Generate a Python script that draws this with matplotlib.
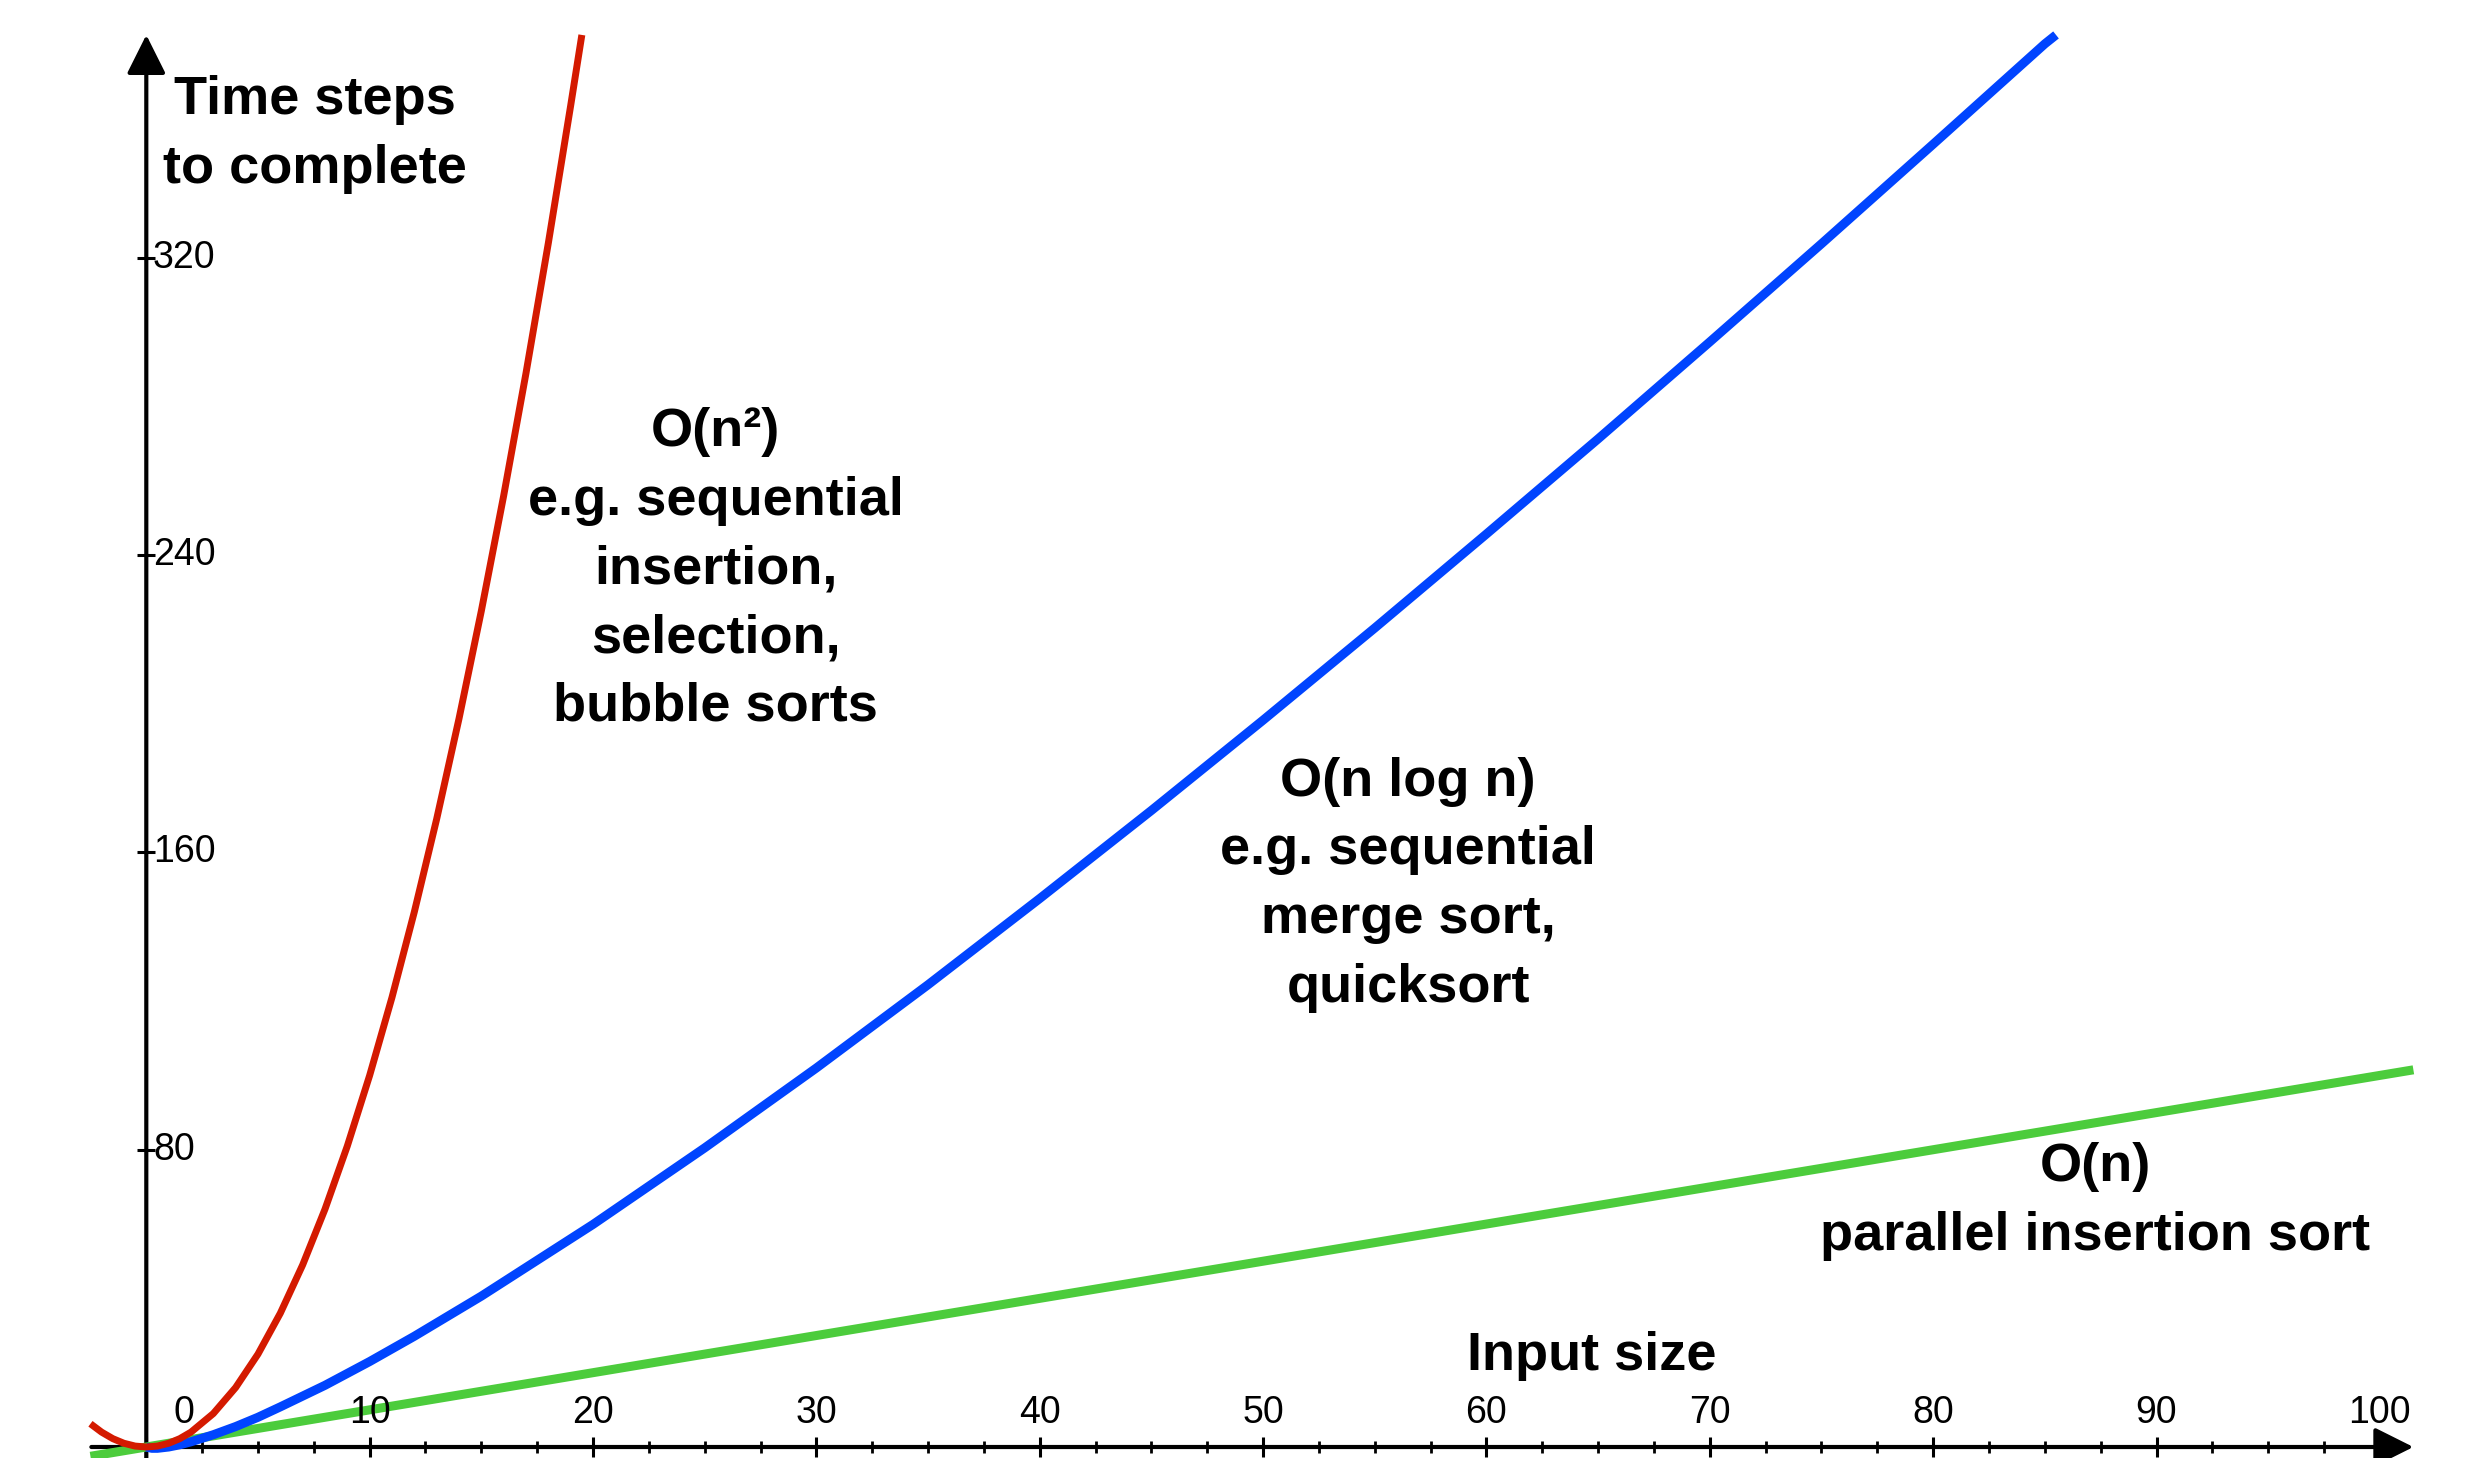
import matplotlib.pyplot as plt
from matplotlib.ticker import FixedLocator

# values
n_quad = [-2.5, -2, -1.5, -1, -0.5, 0, 0.5, 1, 1.5, 2, 3, 4, 5, 6, 7, 8, 9, 10,
          11, 12, 13, 14, 15, 16, 17, 18, 19, 19.5]
t_quad = [6.25, 4, 2.25, 1, 0.25, 0, 0.25, 1, 2.25, 4, 9, 16, 25, 36, 49, 64, 81, 100,
          121, 144, 169, 196, 225, 256, 289, 324, 361, 380]

n_nlogn = [0, 0.25, 0.5, 1, 1.5, 2, 3, 4, 5, 6, 8, 10, 12, 15, 20, 25, 30, 35,
           40, 45, 50, 55, 60, 65, 70, 75, 80, 85, 85.5]
t_nlogn = [0, -0.35, -0.35, 0, 0.6, 1.4, 3.3, 5.5, 8.0, 10.8, 16.6, 23.0, 29.8, 40.6,
           59.9, 80.5, 102.0, 124.4, 147.6, 171.3, 195.6, 220.4, 245.7, 271.3,
           297.4, 323.8, 350.6, 377.6, 380]

n_lin = [-2.5, 0, 20, 40, 60, 80, 101.5]
t_lin = [-2.5, 0, 20, 40, 60, 80, 101.5]

x_ticks = [0, 10, 20, 30, 40, 50, 60, 70, 80, 90, 100]
y_ticks = [80, 160, 240, 320]

RED = '#d41a00'
BLUE = '#0044ff'
GREEN = '#4ccc3c'

plt.rcParams['font.family'] = ['Liberation Sans', 'DejaVu Sans']

fig = plt.figure(figsize=(24.67, 14.58), dpi=100)
ax = fig.add_axes([0, 0, 1, 1])

ax.plot(n_lin, t_lin, color=GREEN, lw=6.5, solid_capstyle='butt', zorder=3)
ax.plot(n_nlogn, t_nlogn, color=BLUE, lw=6.5, solid_capstyle='butt', zorder=4)
ax.plot(n_quad, t_quad, color=RED, lw=5, solid_capstyle='butt', zorder=5)

# axes drawn as arrows through the origin
for s in ax.spines.values():
    s.set_visible(False)
ax.spines['left'].set_position(('data', 0))
ax.spines['bottom'].set_position(('data', 0))
arrow = dict(arrowstyle='-|>,head_length=0.8,head_width=0.4', lw=3, color='black',
             mutation_scale=30, shrinkA=0, shrinkB=0)
ax.annotate('', xy=(101.5, 0), xytext=(-2.46, 0), arrowprops=arrow, zorder=2)
ax.annotate('', xy=(0, 380), xytext=(0, -2.96), arrowprops=arrow, zorder=2)

ax.set_xticks(x_ticks)
ax.xaxis.set_minor_locator(FixedLocator([m * 2.5 for m in range(1, 41)]))
ax.set_yticks(y_ticks)
ax.set_xticklabels([])
ax.set_yticklabels([])
ax.tick_params(axis='x', which='major', direction='inout', length=14, width=2.2)
ax.tick_params(axis='x', which='minor', direction='inout', length=9, width=2)
ax.tick_params(axis='y', which='major', direction='inout', length=13, width=2.2)
ax.tick_params(top=False, right=False)
ax.set_xlim(-6.55, 103.9)
ax.set_ylim(-2.96, 389.4)

for v in x_ticks:
    xpos = 1.7 if v == 0 else v
    ax.text(xpos, 4.2, str(v), ha='center', va='bottom', fontsize=27)
for v in y_ticks:
    ax.text(0.3, v, str(v), ha='left', va='center', fontsize=27)

bold = dict(ha='center', va='center', fontsize=39, fontweight='bold',
            linespacing=1.48, multialignment='center')
ax.text(7.54, 353.2, 'Time steps\nto complete', **bold)
ax.text(25.5, 236.2, 'O(n²)\ne.g. sequential\ninsertion,\nselection,\nbubble sorts', **bold)
ax.text(56.5, 151.3, 'O(n log n)\ne.g. sequential\nmerge sort,\nquicksort', **bold)
ax.text(87.25, 66, 'O(n)\nparallel insertion sort', **bold)
ax.text(64.7, 24.5, 'Input size', **bold)

fig.savefig('out.png', dpi=100)
